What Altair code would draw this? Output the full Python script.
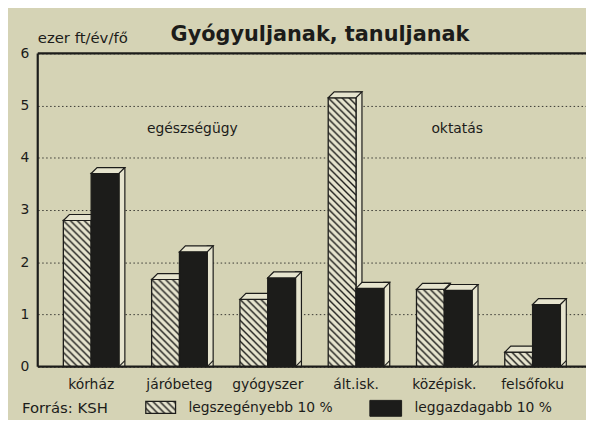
import urllib.parse
import altair as alt
import pandas as pd

# ---------------- data ----------------
categories = ["kórház", "járóbeteg", "gyógyszer", "ált.isk.", "középisk.", "felsőfoku"]
series = ["legszegényebb 10 %", "leggazdagabb 10 %"]
poorest = [2.8, 1.67, 1.29, 5.15, 1.48, 0.28]
richest = [3.7, 2.2, 1.7, 1.5, 1.46, 1.19]
y_ticks = [0, 1, 2, 3, 4, 5, 6]
group_labels = ["egészségügy", "oktatás"]
group_anchor = ["járóbeteg", "középisk."]
title_text = ["Gyógyuljanak, tanuljanak"]
unit_text = ["ezer ft/év/fő"]
source_text = ["Forrás: KSH"]

rows = []
for s, vals in zip(series, [poorest, richest]):
    for c, v in zip(categories, vals):
        rows.append({"cat": c, "series": s, "value": v})
df = pd.DataFrame(rows)
groups_df = pd.DataFrame({"label": group_labels, "cat": group_anchor})

# ---------------- style ----------------
W, H = 553, 316
PAPER = "#d5d3b5"
FACE = "#e6e4ce"
INK = "#1c1c1a"
FONT = "DejaVu Sans"
HALF = 14.0   # half of a bar's front width in px
DEPTH = 6

hatch_svg = (
    "<svg xmlns='http://www.w3.org/2000/svg' width='100%' height='100%'>"
    "<defs><pattern id='h' width='7' height='7' patternUnits='userSpaceOnUse'>"
    f"<rect width='7' height='7' fill='{FACE}'/>"
    f"<path d='M-1,-1 L8,8 M-1,6 L1,8 M6,-1 L8,1' stroke='{INK}' stroke-width='1.4'/>"
    "</pattern></defs><rect width='100%' height='100%' fill='url(#h)'/></svg>"
)
HATCH_URL = "data:image/svg+xml," + urllib.parse.quote(hatch_svg)

x_enc = alt.X(
    "cat:N", sort=categories,
    scale=alt.Scale(paddingInner=0.37, paddingOuter=0.29),
    axis=alt.Axis(title=None, labelAngle=0, ticks=False, domain=False,
                  labelFont=FONT, labelFontSize=14, labelColor=INK, labelPadding=11),
)
xo_enc = alt.XOffset("series:N", sort=series,
                     scale=alt.Scale(domain=series, paddingInner=0, paddingOuter=0))
y_enc = alt.Y(
    "value:Q", stack=None,
    scale=alt.Scale(domain=[0, 6], nice=False, zero=True),
    axis=alt.Axis(title=None, values=y_ticks, ticks=False, domain=False,
                  labelFont=FONT, labelFontSize=14, labelColor=INK, labelPadding=9,
                  grid=True, gridColor=INK, gridDash=[1.5, 2.5], gridWidth=1, gridOpacity=0.85),
)

plain = alt.Chart(df).encode(x=x_enc, y=y_enc)          # positioned at group centre
grouped = plain.encode(xOffset=xo_enc)                   # positioned in series sub-band

top_shape = f"M{-HALF},0L{-HALF + DEPTH},{-DEPTH}L{HALF + DEPTH},{-DEPTH}L{HALF},0Z"
bottom_shape = f"M{HALF},0L{HALF + DEPTH},{-DEPTH}"

layers = []
for i, s in enumerate(series):
    sel = alt.datum.series == s
    front_c = -HALF if i == 0 else HALF       # front face centre relative to group centre
    # side face
    layers.append(plain.transform_filter(sel)
                  .mark_bar(width=DEPTH, fill=FACE, stroke=INK, strokeWidth=1.2,
                            xOffset=front_c + HALF + DEPTH / 2, yOffset=-DEPTH, y2Offset=0))
    # front face
    if i == 0:
        layers.append(grouped.transform_filter(sel)
                      .mark_image(url=HATCH_URL, aspect=False).encode(y2=alt.Y2(datum=0)))
        layers.append(grouped.transform_filter(sel)
                      .mark_bar(fill="transparent", stroke=INK, strokeWidth=1.3))
    else:
        layers.append(grouped.transform_filter(sel)
                      .mark_bar(fill=INK, stroke=INK, strokeWidth=1.3))
    # top face
    layers.append(plain.transform_filter(sel)
                  .mark_point(shape=top_shape, size=4, filled=True, fill=FACE,
                              stroke=INK, strokeWidth=1.2, opacity=1, xOffset=front_c))
    # bottom diagonal of side face
    layers.append(plain.transform_filter(sel)
                  .mark_point(shape=bottom_shape, size=4, filled=False,
                              stroke=INK, strokeWidth=1.1, opacity=1, xOffset=front_c)
                  .encode(y=alt.Y(datum=0)))

# frame lines
frame = pd.DataFrame({"v": [0]})
layers.append(alt.Chart(frame).mark_rule(color=INK, strokeWidth=2.2)
              .encode(x=alt.value(0), x2=alt.value(W + 10), y=alt.Y(datum=6)))
layers.append(alt.Chart(frame).mark_rule(color=INK, strokeWidth=2.2)
              .encode(x=alt.value(0), x2=alt.value(W + 10), y=alt.Y(datum=0)))
layers.append(alt.Chart(frame).mark_rule(color=INK, strokeWidth=2.2)
              .encode(x=alt.value(0), y=alt.Y(datum=0), y2=alt.Y2(datum=6)))

# section annotations
layers.append(alt.Chart(groups_df).mark_text(font=FONT, fontSize=14, color=INK, dx=13)
              .encode(x=alt.X("cat:N", sort=categories), y=alt.Y(datum=4.55), text="label:N"))

# title and unit
layers.append(alt.Chart(pd.DataFrame({"t": title_text}))
              .mark_text(font=FONT, fontSize=21, fontWeight="bold", align="left",
                         baseline="alphabetic", color=INK)
              .encode(text="t:N", x=alt.value(134), y=alt.value(-13)))
layers.append(alt.Chart(pd.DataFrame({"t": unit_text}))
              .mark_text(font=FONT, fontSize=15, align="left", baseline="alphabetic", color=INK)
              .encode(text="t:N", x=alt.value(0), y=alt.value(-10)))

# legend row
layers.append(alt.Chart(pd.DataFrame({"t": source_text}))
              .mark_text(font=FONT, fontSize=15, align="left", baseline="middle", color=INK)
              .encode(text="t:N", x=alt.value(-16), y=alt.value(358)))
layers.append(alt.Chart(pd.DataFrame({"t": [series[0]]}))
              .mark_image(url=HATCH_URL, aspect=False)
              .encode(x=alt.value(109), x2=alt.value(139), y=alt.value(351), y2=alt.value(363)))
layers.append(alt.Chart(pd.DataFrame({"t": [series[0]]}))
              .mark_rect(fill="transparent", stroke=INK, strokeWidth=1.3)
              .encode(x=alt.value(109), x2=alt.value(139), y=alt.value(351), y2=alt.value(363)))
layers.append(alt.Chart(pd.DataFrame({"t": [series[0]]}))
              .mark_text(font=FONT, fontSize=14, align="left", baseline="middle", color=INK)
              .encode(text="t:N", x=alt.value(152), y=alt.value(358)))
layers.append(alt.Chart(pd.DataFrame({"t": [series[1]]}))
              .mark_rect(fill=INK, stroke=INK)
              .encode(x=alt.value(335), x2=alt.value(367), y=alt.value(350), y2=alt.value(366)))
layers.append(alt.Chart(pd.DataFrame({"t": [series[1]]}))
              .mark_text(font=FONT, fontSize=14, align="left", baseline="middle", color=INK)
              .encode(text="t:N", x=alt.value(380), y=alt.value(358)))

chart = (
    alt.layer(*layers)
    .properties(width=W, height=H, background=PAPER,
                autosize=alt.AutoSizeParams(type="none"),
                padding={"left": 30, "top": 44, "right": 0, "bottom": 52})
    .configure_view(strokeWidth=0)
)

chart.save("out.html", embed_options={"renderer": "svg", "actions": False})
